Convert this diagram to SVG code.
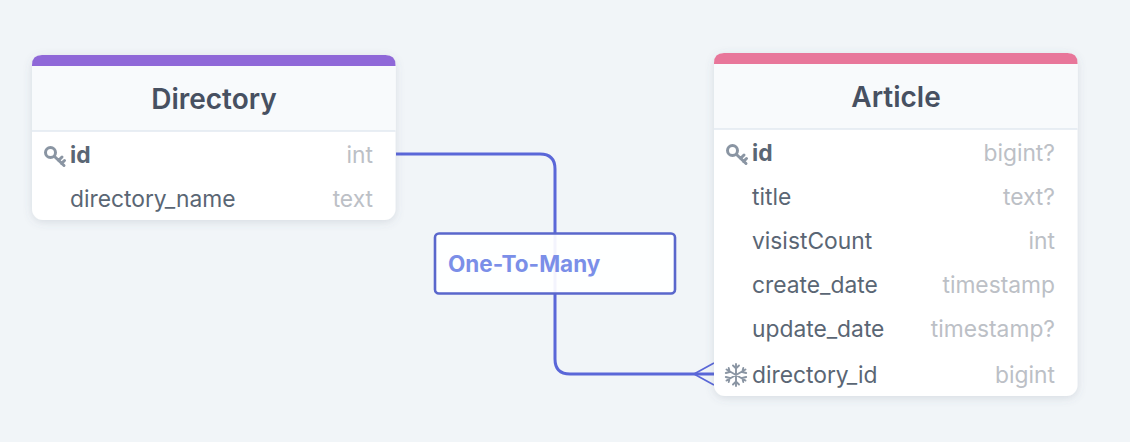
<svg xmlns="http://www.w3.org/2000/svg" width="1130" height="442" viewBox="0 0 1130 442">
<style>
text{font-family:Inter,"Liberation Sans",sans-serif}
.title{font-size:28px;font-weight:600;fill:#475061;text-anchor:middle}
.name{font-size:22.800px;fill:#5a6674}
.pk{font-size:22.800px;font-weight:700;fill:#5a6674}
.type{font-size:22.800px;fill:#bcc0c6;text-anchor:end}
.body{fill:#fff;filter:url(#sh)}
.head{fill:#f8fafc}
.rule{stroke:#e2e8f0;stroke-width:1.500}
.conn{fill:none;stroke:#5a67d8;stroke-width:3}
.crow{fill:none;stroke:#5a67d8;stroke-width:1.700}
.icon{fill:none;stroke:#8a95a3;stroke-linecap:round}
.k{stroke-width:3}
.f{stroke-width:1.900}
</style>
<defs>
<filter id="sh" x="-10%" y="-10%" width="120%" height="125%">
<feDropShadow dx="0" dy="2" stdDeviation="4" flood-color="#5a6478" flood-opacity="0.18"/>
</filter>
<g id="key"><circle cx="6.500" cy="6.500" r="5"/><path d="M10.500 10.500L20 19.500M14.500 14.500l3.500-3.500M17.500 17.500l3-3"/></g>
<g id="flake"><path d="M11 0V22M1.500 5.500L20.500 16.500M1.500 16.500L20.500 5.500M8 1.500L11 4.500L14 1.500M8 20.500L11 17.500L14 20.500M0.800 9L4.800 8L3.700 4M21.200 13L17.200 14L18.300 18M0.800 13L4.800 14L3.700 18M21.200 9L17.200 8L18.300 4"/></g>
</defs>
<rect width="1130" height="442" fill="#f1f5f8"/>
<g id="connectors">
<path class="conn" d="M396 154H540Q555 154 555 169V359Q555 374 570 374H714"/>
<path class="crow" d="M694 374L714 363M694 374L714 385"/>
</g>
<g id="label">
<rect x="435" y="233.500" width="240" height="60" rx="4" fill="#fff" fill-opacity="0.93" stroke="#5a67cc" stroke-width="2.600"/>
<text x="448" y="272" font-size="22.500" font-weight="700" fill="#7b8fe8">One-To-Many</text>
</g>
<g id="directory">
<rect class="body" x="32" y="55" width="363.500" height="165" rx="11"/>
<path class="head" d="M32 66H395.500V131H32Z"/>
<path d="M32 66V65Q32 55 42 55H385.500Q395.500 55 395.500 65V66Z" fill="#8f68d8"/>
<path class="rule" d="M32 131H395.500"/>
<text class="title" x="214" y="109">Directory</text>
<use href="#key" class="icon k" x="44" y="146"/>
<text class="pk" x="70" y="163">id</text>
<text class="type" x="373" y="163">int</text>
<text class="name" x="70" y="207">directory_name</text>
<text class="type" x="373" y="207">text</text>
</g>
<g id="article">
<rect class="body" x="714" y="53" width="363.500" height="343" rx="11"/>
<path class="head" d="M714 64H1077.500V129H714Z"/>
<path d="M714 64V63Q714 53 724 53H1067.500Q1077.500 53 1077.500 63V64Z" fill="#e8769a"/>
<path class="rule" d="M714 129H1077.500"/>
<text class="title" x="896" y="107">Article</text>
<use href="#key" class="icon k" x="726" y="144"/>
<text class="pk" x="752" y="161">id</text>
<text class="type" x="1055" y="161">bigint?</text>
<text class="name" x="752" y="205">title</text>
<text class="type" x="1055" y="205">text?</text>
<text class="name" x="752" y="249">visistCount</text>
<text class="type" x="1055" y="249">int</text>
<text class="name" x="752" y="293">create_date</text>
<text class="type" x="1055" y="293">timestamp</text>
<text class="name" x="752" y="337">update_date</text>
<text class="type" x="1055" y="337">timestamp?</text>
<use href="#flake" class="icon f" x="725" y="364"/>
<text class="name" x="752" y="382.500">directory_id</text>
<text class="type" x="1055" y="382.500">bigint</text>
</g>
</svg>
